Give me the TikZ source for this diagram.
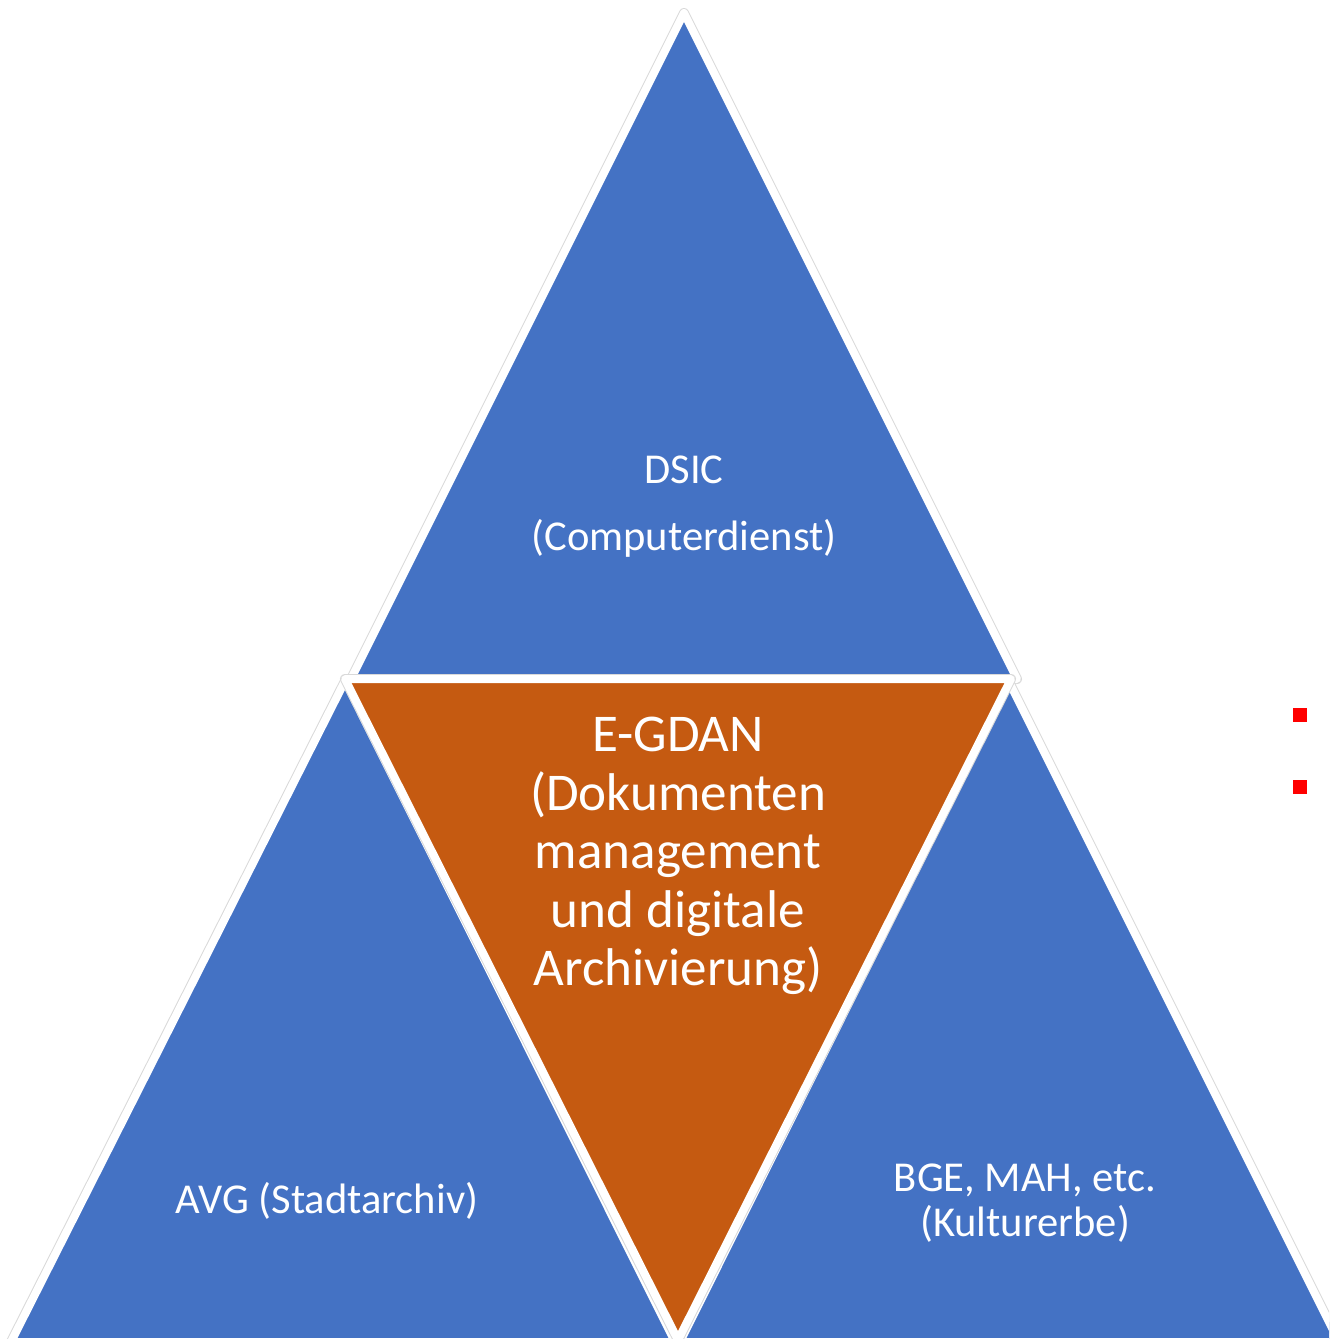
\documentclass[tikz,border=0pt]{standalone}
\usepackage{fontspec}
\setmainfont{Carlito}
\usepackage{xcolor}
\definecolor{partblue}{HTML}{4472C4}
\definecolor{coreorange}{HTML}{C55A11}
\tikzstyle{tri:part}=[fill=partblue,draw=white,line width=0.08cm,line join=round,
  preaction={draw=gray!30,line width=0.1cm,line join=round}]
\tikzstyle{tri:core}=[tri:part,fill=coreorange]
\tikzstyle{text:part}=[white,align=center,inner sep=0pt,font=\fontsize{12.1}{12.8}\selectfont]
\tikzstyle{text:core}=[white,align=center,inner sep=0pt,font=\fontsize{15.1}{16.6}\selectfont]
\tikzstyle{node:mark}=[rectangle,fill=red,inner sep=0pt,minimum size=0.135cm]

\begin{document}
\begin{tikzpicture}[x=0.01cm,y=-0.01cm]
        \useasboundingbox (0,0) rectangle (1329,1339);
        \clip (0,0) rectangle (1329,1339);

        % Triangles
        \draw[tri:part] (684,13) -- (351,679) -- (1017,679) -- cycle;
        \draw[tri:part] (345,681) -- (11,1342) -- (675,1342) -- cycle;
        \draw[tri:part] (1009,682) -- (680,1342) -- (1339,1342) -- cycle;
        \draw[tri:core] (345,679) -- (1011,679) -- (678,1340) -- cycle;

        % Labels
        \node[text:part] (dsic) at (684,470) {DSIC};
        \node[text:part] (dsicsub) at (684,538) {(Computerdienst)};
        \node[text:core] (egdan) at (678,856) {E-GDAN\\(Dokumenten\\management\\und digitale\\Archivierung)};
        \node[text:part] (avg) at (327,1201) {AVG (Stadtarchiv)};
        \node[text:part] (bge) at (1025,1203) {BGE, MAH, etc.\\(Kulturerbe)};

        % Markers
        \node[node:mark] (mark1) at (1300,715) {};
        \node[node:mark] (mark2) at (1300,787) {};

    \end{tikzpicture}
\end{document}
